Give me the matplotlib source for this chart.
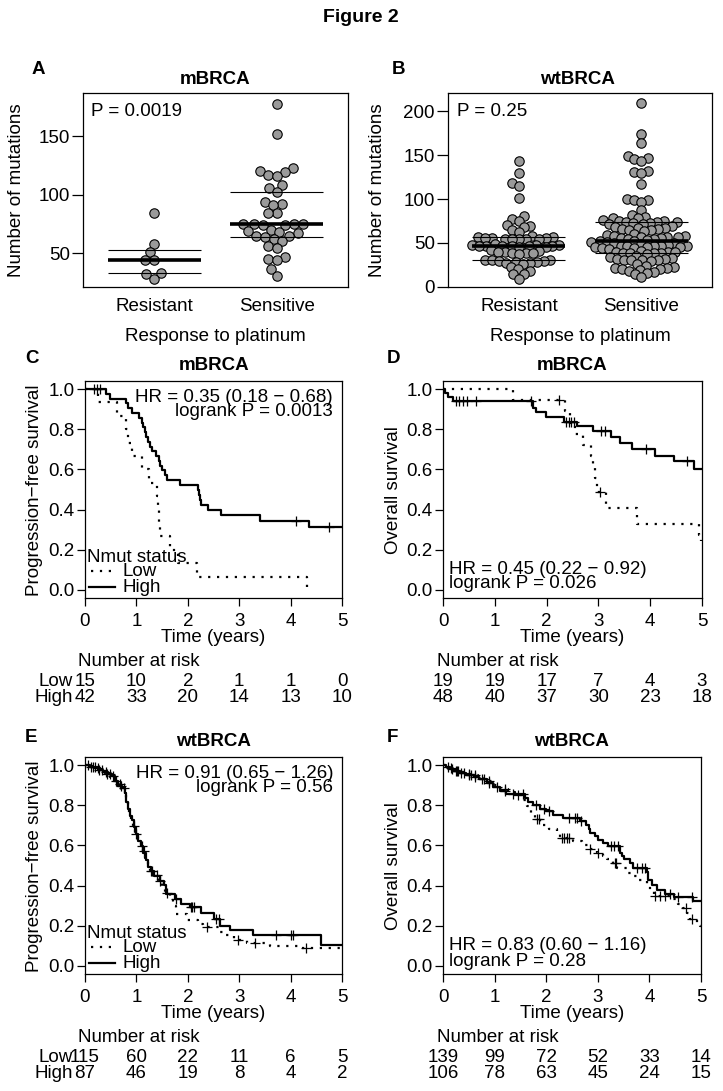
import numpy as np
import matplotlib
matplotlib.use("Agg")
import matplotlib.pyplot as plt
from matplotlib.transforms import blended_transform_factory

plt.rcParams['font.family'] = ['Liberation Sans', 'DejaVu Sans']
plt.rcParams['axes.unicode_minus'] = True

# ---------------- data ----------------
# Panel A (mBRCA), number of mutations
a_resistant = [84, 58, 51, 44, 44, 33, 32, 28]
a_sensitive = [178, 152, 123, 120, 119, 117, 116, 108, 106, 102, 94, 92, 91, 84, 84,
               75, 75, 75, 75, 74, 74, 70, 69, 68, 67, 65, 65, 64, 62, 60, 56, 54,
               47, 45, 44, 36, 30]
# Panel B (wtBRCA)
b_resistant = [143, 130, 118, 115, 101, 81, 77, 75, 70, 69, 68, 65, 62,
               58, 57, 57, 56, 56, 56, 55, 55, 55, 54, 54,
               49, 48, 48, 48, 47, 47, 47, 47, 46, 46, 45, 45,
               42, 41, 40, 40, 39, 39, 38, 37,
               31, 30, 30, 29, 29, 28, 28, 27, 27, 26,
               22, 20, 18, 15, 14, 9]
b_sensitive = [210, 174, 164, 149, 147, 146, 144, 132, 131, 130, 117, 100, 99, 99, 97, 87, 82, 80, 78, 78,
               76, 75, 75, 74, 74, 74, 73, 73, 72, 71,
               69, 68, 67, 67, 66, 66, 65, 65, 64,
               60, 59, 58, 58, 57, 57, 57, 56, 56, 55, 55,
               53, 52, 52, 51, 51, 50, 50, 49,
               48, 47, 47, 46, 46, 46, 45, 45, 45, 44, 44, 43,
               41, 40, 40, 40, 39, 39, 38, 38, 37,
               35, 34, 33, 32, 32, 31, 31, 30, 30, 29,
               26, 24, 22, 21, 21, 20, 20, 19, 18, 17, 16,
               14, 11]
groups = ["Resistant", "Sensitive"]

# Panel C: mBRCA PFS
c_high_t = [0.41, 0.49, 0.80, 0.84, 0.92, 1.05, 1.10, 1.13, 1.16, 1.19, 1.23, 1.27, 1.30, 1.39,
            1.44, 1.46, 1.50, 1.55, 1.60, 1.85, 2.20, 2.22, 2.24, 2.26, 2.40, 2.65, 3.40, 4.35]
c_high_s = [0.976, 0.952, 0.929, 0.905, 0.881, 0.857, 0.833, 0.810, 0.786, 0.762, 0.738, 0.714, 0.690, 0.667,
            0.643, 0.619, 0.595, 0.571, 0.548, 0.524, 0.500, 0.474, 0.448, 0.422, 0.397, 0.372, 0.344, 0.313]
c_high_cens = [0.18, 0.24, 0.29, 4.10, 4.75]
c_high_end = 5.0
c_low_t = [0.25, 0.62, 0.80, 0.83, 0.92, 1.10, 1.25, 1.40, 1.42, 1.44, 1.46, 1.65, 1.80, 2.18, 4.32]
c_low_s = [0.933, 0.867, 0.800, 0.733, 0.667, 0.600, 0.533, 0.467, 0.400, 0.333, 0.267, 0.200, 0.133, 0.067, 0.0]
c_low_cens = []
c_low_end = 4.32
c_risk_low = [15, 10, 2, 1, 1, 0]
c_risk_high = [42, 33, 20, 14, 13, 10]

# Panel D: mBRCA OS
d_high_t = [0.04, 0.10, 0.20, 1.73, 1.80, 1.99, 2.33, 2.58, 2.90, 3.25, 3.42, 3.64, 4.09, 4.45, 4.84]
d_high_s = [0.979, 0.958, 0.938, 0.906, 0.885, 0.862, 0.838, 0.815, 0.793, 0.760, 0.731, 0.704, 0.668, 0.641, 0.603]
d_high_cens = [0.25, 0.31, 0.38, 0.47, 0.63, 1.70, 2.38, 2.44, 2.48, 2.52, 3.05, 3.12, 3.92, 4.72]
d_high_end = 5.0
d_low_t = [1.35, 2.35, 2.45, 2.55, 2.70, 2.85, 2.90, 2.93, 2.97, 3.15, 3.75, 4.95, 4.98]
d_low_s = [0.947, 0.889, 0.833, 0.778, 0.722, 0.667, 0.611, 0.556, 0.486, 0.410, 0.328, 0.273, 0.245]
d_low_cens = [2.24, 3.03]
d_low_end = 4.99
d_risk_low = [19, 19, 17, 7, 4, 3]
d_risk_high = [48, 40, 37, 30, 23, 18]

# Panel E: wtBRCA PFS
e_high_t = [0.10, 0.25, 0.35, 0.45, 0.52, 0.58, 0.65, 0.72, 0.78, 0.80, 0.83, 0.87, 0.91, 0.95, 0.99,
            1.04, 1.09, 1.13, 1.18, 1.23, 1.28, 1.34, 1.45, 1.54, 1.57, 1.75, 1.86, 2.05, 2.25, 2.50,
            2.63, 2.82, 3.27, 4.60]
e_high_s = [0.989, 0.977, 0.966, 0.954, 0.943, 0.920, 0.897, 0.885, 0.862, 0.816, 0.782, 0.747, 0.724, 0.690, 0.655,
            0.621, 0.598, 0.563, 0.529, 0.494, 0.471, 0.448, 0.425, 0.402, 0.356, 0.333, 0.310, 0.295, 0.262, 0.232,
            0.200, 0.178, 0.155, 0.103]
e_high_cens = [0.05, 0.12, 0.20, 0.28, 0.33, 0.40, 0.48, 0.55, 0.70, 0.76, 1.00, 1.10, 1.28, 1.31, 1.45,
               1.78, 2.06, 2.09, 2.12, 2.55, 2.60, 3.72, 4.00, 4.05]
e_high_end = 5.0
e_low_t = [0.08, 0.18, 0.30, 0.38, 0.48, 0.55, 0.62, 0.70, 0.77, 0.80, 0.83, 0.86, 0.90, 0.94, 0.98,
           1.03, 1.08, 1.12, 1.17, 1.22, 1.27, 1.33, 1.42, 1.50, 1.56, 1.65, 1.72, 1.78, 1.98, 2.20,
           2.30, 2.60, 2.75, 2.90, 3.15, 3.60, 4.20]
e_low_s = [0.991, 0.983, 0.974, 0.957, 0.939, 0.922, 0.904, 0.887, 0.861, 0.826, 0.791, 0.757, 0.722, 0.696, 0.661,
           0.626, 0.600, 0.574, 0.539, 0.504, 0.478, 0.452, 0.426, 0.400, 0.365, 0.330, 0.296, 0.261, 0.230, 0.210,
           0.193, 0.170, 0.155, 0.130, 0.114, 0.097, 0.087]
e_low_cens = [0.15, 0.25, 0.42, 0.60, 0.68, 0.95, 1.15, 1.40, 1.60, 2.38, 2.98, 3.30, 4.30]
e_low_end = 5.0
e_risk_low = [115, 60, 22, 11, 6, 5]
e_risk_high = [87, 46, 19, 8, 4, 2]

# Panel F: wtBRCA OS
f_high_t = [0.05, 0.13, 0.20, 0.32, 0.45, 0.60, 0.70, 0.85, 0.97, 1.10, 1.23, 1.59, 1.65, 1.75, 1.88,
            2.00, 2.14, 2.33, 2.65, 2.78, 2.82, 2.85, 2.95, 3.00, 3.10, 3.20, 3.43, 3.47, 3.50, 3.62,
            3.69, 3.95, 3.98, 4.05, 4.14, 4.30, 4.47, 4.85]
f_high_s = [0.991, 0.981, 0.972, 0.962, 0.952, 0.942, 0.932, 0.912, 0.893, 0.873, 0.856, 0.835, 0.818, 0.800, 0.780,
            0.769, 0.752, 0.736, 0.720, 0.703, 0.684, 0.662, 0.645, 0.629, 0.612, 0.596, 0.563, 0.545, 0.530, 0.513,
            0.488, 0.468, 0.430, 0.405, 0.380, 0.356, 0.345, 0.323]
f_high_cens = [0.10, 0.18, 0.25, 0.28, 0.35, 0.40, 0.50, 0.55, 0.62, 0.75, 0.80, 0.90, 1.05, 1.20, 1.35,
               1.55, 1.80, 1.95, 2.05, 2.45, 2.55, 2.60, 2.68, 3.25, 3.32, 3.40, 3.75, 3.85, 3.92, 4.40,
               4.55, 4.82]
f_high_end = 5.0
f_low_t = [0.03, 0.10, 0.18, 0.25, 0.35, 0.45, 0.55, 0.68, 0.80, 0.95, 1.10, 1.25, 1.40, 1.55, 1.62,
           1.70, 1.78, 1.88, 2.05, 2.20, 2.27, 2.52, 2.70, 2.82, 2.98, 3.10, 3.17, 3.30, 3.37, 3.56,
           3.70, 3.79, 3.95, 4.02, 4.08, 4.40, 4.55, 4.66, 4.72, 4.79, 4.92, 4.98]
f_low_s = [0.993, 0.986, 0.978, 0.971, 0.964, 0.957, 0.949, 0.935, 0.921, 0.900, 0.879, 0.864, 0.850, 0.828, 0.795,
           0.760, 0.730, 0.700, 0.680, 0.655, 0.637, 0.620, 0.600, 0.580, 0.563, 0.545, 0.530, 0.510, 0.490, 0.464,
           0.447, 0.430, 0.398, 0.373, 0.348, 0.332, 0.310, 0.290, 0.265, 0.233, 0.215, 0.200]
f_low_cens = [0.15, 0.30, 0.50, 0.62, 0.90, 1.20, 1.45, 1.82, 1.86, 2.30, 2.35, 2.40, 2.45, 2.85, 3.00,
              3.33, 3.36, 4.10, 4.20, 4.30, 4.70, 4.82]
f_low_end = 5.0
f_risk_low = [139, 99, 72, 52, 33, 14]
f_risk_high = [106, 78, 63, 45, 24, 15]

risk_times = [0, 1, 2, 3, 4, 5]

# ---------------- layout ----------------
W, H = 723, 1091
FS = 13.5
fig = plt.figure(figsize=(W / 100, H / 100), dpi=100)
fig.patch.set_facecolor('white')


def add_ax(l, t, r, b):
    return fig.add_axes([l / W, 1 - b / H, (r - l) / W, (b - t) / H])


def ftext(x, y, s, **kw):
    kw.setdefault('fontsize', FS)
    return fig.text(x / W, 1 - y / H, s, **kw)


def style_axes(ax):
    for sp in ax.spines.values():
        sp.set_linewidth(0.9)
        sp.set_color('black')


def swarm(ypx, d):
    n = len(ypx)
    order = np.argsort(ypx, kind='stable')
    xs = np.zeros(n)
    px, py = [], []
    for i in order:
        y = ypx[i]
        cands = [0.0]
        for xj, yj in zip(px, py):
            dy = y - yj
            if abs(dy) < d:
                dx = np.sqrt(d * d - dy * dy)
                cands += [xj + dx, xj - dx]
        cands = sorted(cands, key=lambda c: (abs(c), c))
        chosen = cands[-1]
        for c in cands:
            ok = True
            for xj, yj in zip(px, py):
                if (c - xj) ** 2 + (y - yj) ** 2 < d * d - 1e-6:
                    ok = False
                    break
            if ok:
                chosen = c
                break
        xs[i] = chosen
        px.append(chosen)
        py.append(y)
    return xs


def swarm_panel(ax, data_groups, ylim, yticks, dist):
    xlim = (0.42, 2.58)
    ax.set_xlim(*xlim)
    ax.set_ylim(*ylim)
    bb = ax.get_window_extent()
    xpx = bb.width / (xlim[1] - xlim[0])
    ypx = bb.height / (ylim[1] - ylim[0])
    for i, vals in enumerate(data_groups):
        pos = i + 1
        v = np.asarray(vals, float)
        off = swarm(v * ypx, dist) / xpx
        ax.scatter(pos + off, v, s=46, c='#9a9a9a', edgecolors='black', linewidths=0.8, zorder=2)
        q1, med, q3 = np.percentile(v, [25, 50, 75])
        ax.hlines(med, pos - 0.38, pos + 0.38, color='black', lw=2.6, zorder=3)
        ax.hlines([q1, q3], pos - 0.38, pos + 0.38, color='black', lw=0.8, zorder=3)
    ax.set_yticks(yticks)
    ax.set_xticks([1, 2])
    ax.set_xticklabels(groups)
    ax.tick_params(axis='y', direction='out', length=8, width=0.9, pad=1.5, labelsize=FS)
    ax.tick_params(axis='x', length=0, pad=8, labelsize=FS)
    style_axes(ax)


def step_value(times, surv, t):
    idx = np.searchsorted(np.asarray(times), t, side='right') - 1
    return 1.0 if idx < 0 else surv[idx]


def km_curve(ax, times, surv, end, cens, **style):
    x = np.concatenate([[0.0], times, [end]])
    y = np.concatenate([[1.0], surv, [surv[-1]]])
    ax.step(x, y, where='post', color='black', **style)
    if len(cens):
        cy = [step_value(times, surv, c) for c in cens]
        ax.plot(cens, cy, linestyle='none', marker='+', ms=6.5, mew=0.9, color='black', zorder=4)


SOLID = dict(lw=1.6)
DOTTED = dict(lw=1.6, linestyle=(0, (1, 3)))


def km_panel(ax, high, low, risk_low, risk_high, with_rowlabels, nar_x):
    km_curve(ax, *low, **DOTTED)
    km_curve(ax, *high, **SOLID)
    ax.set_xlim(0, 5)
    ax.set_ylim(-0.04, 1.04)
    ax.set_xticks(risk_times)
    ax.set_yticks([0, 0.2, 0.4, 0.6, 0.8, 1.0])
    ax.set_yticklabels(['0.0', '0.2', '0.4', '0.6', '0.8', '1.0'])
    ax.tick_params(axis='y', direction='out', length=5.8, width=0.9, pad=1.5, labelsize=FS)
    ax.tick_params(axis='x', direction='out', length=5.8, width=0.9, pad=5, labelsize=FS)
    style_axes(ax)
    bb = ax.get_window_extent()
    bottom_px = H - bb.y0
    cx = (bb.x0 + bb.x1) / 2
    ftext(cx, bottom_px + 40, 'Time (years)', ha='center', va='center')
    ftext(nar_x, bottom_px + 64, 'Number at risk', ha='left', va='center')
    tr = blended_transform_factory(ax.transData, fig.transFigure)
    for t, nl, nh in zip(risk_times, risk_low, risk_high):
        ax.text(t, 1 - (bottom_px + 84) / H, str(nl), transform=tr, ha='center', va='center', fontsize=FS, clip_on=False)
        ax.text(t, 1 - (bottom_px + 99) / H, str(nh), transform=tr, ha='center', va='center', fontsize=FS, clip_on=False)
    if with_rowlabels:
        ftext(bb.x0 - 12, bottom_px + 84, 'Low', ha='right', va='center')
        ftext(bb.x0 - 12, bottom_px + 99, 'High', ha='right', va='center')


def legend_block(ax):
    bb = ax.get_window_extent()
    bottom_px = H - bb.y0
    x0 = bb.x0
    ftext(x0 + 2, bottom_px - 41, 'Nmut status', ha='left', va='center')
    ftext(x0 + 37, bottom_px - 27, 'Low', ha='left', va='center')
    ftext(x0 + 37, bottom_px - 11, 'High', ha='left', va='center')
    tf = fig.transFigure
    ax.plot([(x0 + 6) / W, (x0 + 28) / W], [1 - (bottom_px - 27) / H] * 2, transform=tf,
            color='black', clip_on=False, **DOTTED)
    ax.plot([(x0 + 4) / W, (x0 + 30) / W], [1 - (bottom_px - 11) / H] * 2, transform=tf,
            color='black', clip_on=False, **SOLID)


# ---------------- figure ----------------
ftext(361, 17, 'Figure 2', ha='center', va='center', fontweight='bold', fontsize=14)

# A
axA = add_ax(83, 93, 348, 287)
swarm_panel(axA, [a_resistant, a_sensitive], (21, 187), [50, 100, 150], 9.0)
ftext(32, 70, 'A', ha='left', va='center', fontweight='bold', fontsize=13.5)
ftext(215.5, 79, 'mBRCA', ha='center', va='center', fontweight='bold')
ftext(91, 111, 'P = 0.0019', ha='left', va='center')
ftext(17, 190, 'Number of mutations', rotation=90, ha='center', va='center')
ftext(215.5, 337, 'Response to platinum', ha='center', va='center')

# B
axB = add_ax(448, 93, 712, 287)
swarm_panel(axB, [b_resistant, b_sensitive], (-0.3, 221), [0, 50, 100, 150, 200], 7.0)
ftext(392, 70, 'B', ha='left', va='center', fontweight='bold', fontsize=13.5)
ftext(578, 79, 'wtBRCA', ha='center', va='center', fontweight='bold')
ftext(457, 112, 'P = 0.25', ha='left', va='center')
ftext(377, 190, 'Number of mutations', rotation=90, ha='center', va='center')
ftext(580, 337, 'Response to platinum', ha='center', va='center')

# C
axC = add_ax(85, 381, 342, 598)
km_panel(axC, (c_high_t, c_high_s, c_high_end, c_high_cens), (c_low_t, c_low_s, c_low_end, c_low_cens),
         c_risk_low, c_risk_high, True, 78)
legend_block(axC)
ftext(25, 359, 'C', ha='left', va='center', fontweight='bold', fontsize=13.5)
ftext(214, 366, 'mBRCA', ha='center', va='center', fontweight='bold')
ftext(333, 397, 'HR = 0.35 (0.18 \u2212 0.68)', ha='right', va='center')
ftext(333, 411, 'logrank P = 0.0013', ha='right', va='center')
ftext(35, 490, 'Progression\u2212free survival', rotation=90, ha='center', va='center')

# D
axD = add_ax(443, 381, 702, 598)
km_panel(axD, (d_high_t, d_high_s, d_high_end, d_high_cens), (d_low_t, d_low_s, d_low_end, d_low_cens),
         d_risk_low, d_risk_high, False, 437)
ftext(387, 359, 'D', ha='left', va='center', fontweight='bold', fontsize=13.5)
ftext(572, 366, 'mBRCA', ha='center', va='center', fontweight='bold')
ftext(449, 569, 'HR = 0.45 (0.22 \u2212 0.92)', ha='left', va='center')
ftext(449, 583, 'logrank P = 0.026', ha='left', va='center')
ftext(394, 490, 'Overall survival', rotation=90, ha='center', va='center')

# E
axE = add_ax(85, 757, 342, 974)
km_panel(axE, (e_high_t, e_high_s, e_high_end, e_high_cens), (e_low_t, e_low_s, e_low_end, e_low_cens),
         e_risk_low, e_risk_high, True, 78)
legend_block(axE)
ftext(25, 737, 'E', ha='left', va='center', fontweight='bold', fontsize=13.5)
ftext(214, 742, 'wtBRCA', ha='center', va='center', fontweight='bold')
ftext(333, 773, 'HR = 0.91 (0.65 \u2212 1.26)', ha='right', va='center')
ftext(333, 788, 'logrank P = 0.56', ha='right', va='center')
ftext(35, 866, 'Progression\u2212free survival', rotation=90, ha='center', va='center')

# F
axF = add_ax(443, 757, 701, 974)
km_panel(axF, (f_high_t, f_high_s, f_high_end, f_high_cens), (f_low_t, f_low_s, f_low_end, f_low_cens),
         f_risk_low, f_risk_high, False, 437)
ftext(387, 738, 'F', ha='left', va='center', fontweight='bold', fontsize=13.5)
ftext(572, 742, 'wtBRCA', ha='center', va='center', fontweight='bold')
ftext(449, 945, 'HR = 0.83 (0.60 \u2212 1.16)', ha='left', va='center')
ftext(449, 961, 'logrank P = 0.28', ha='left', va='center')
ftext(394, 866, 'Overall survival', rotation=90, ha='center', va='center')

fig.savefig('out.png', dpi=100, facecolor='white')
